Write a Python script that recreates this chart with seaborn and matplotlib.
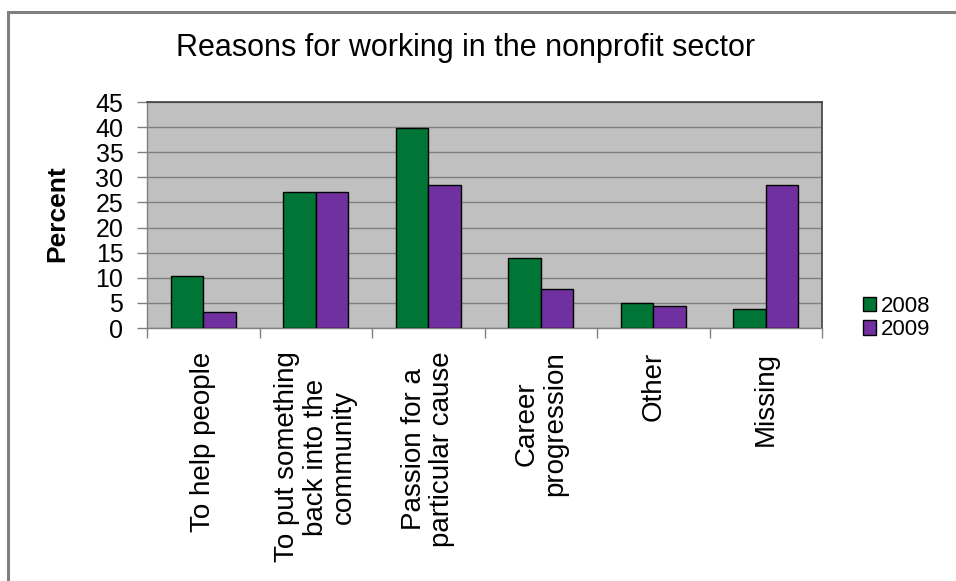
import matplotlib
matplotlib.use("Agg")
import matplotlib.pyplot as plt
from matplotlib.patches import Rectangle
import seaborn as sns
import pandas as pd

categories = [
    "To help people",
    "To put something\nback into the\ncommunity",
    "Passion for a\nparticular cause",
    "Career\nprogression",
    "Other",
    "Missing",
]
values_2008 = [10.4, 27.0, 39.8, 13.9, 4.9, 3.7]
values_2009 = [3.2, 27.0, 28.5, 7.8, 4.4, 28.5]
years = ["2008", "2009"]
y_ticks = [0, 5, 10, 15, 20, 25, 30, 35, 40, 45]

df = pd.DataFrame({
    "Reason": categories * 2,
    "Year": [years[0]] * len(categories) + [years[1]] * len(categories),
    "Percent": values_2008 + values_2009,
})

sns.set_theme(style="white")
plt.rcParams["font.family"] = ["Liberation Sans", "DejaVu Sans"]
plt.rcParams["text.color"] = "black"
plt.rcParams["xtick.labelcolor"] = "black"
plt.rcParams["ytick.labelcolor"] = "black"

fig = plt.figure(figsize=(9.56, 5.81), dpi=100)
ax = fig.add_axes([147 / 956, 1 - 328 / 581, (822 - 147) / 956, (328 - 102) / 581])

palette = {"2008": "#007535", "2009": "#7030A0"}
sns.barplot(data=df, x="Reason", y="Percent", hue="Year", order=categories,
            hue_order=years, palette=palette, width=0.58, gap=0,
            edgecolor="black", linewidth=1.0, saturation=1, ax=ax, zorder=3)

ax.set_facecolor("#C0C0C0")
ax.set_ylim(0, 45)
ax.set_xlim(-0.5, len(categories) - 0.5)
ax.set_yticks(y_ticks)
ax.yaxis.grid(True, color="#808080", linewidth=1.0, zorder=0)
ax.set_axisbelow(True)

for side in ["left", "bottom"]:
    ax.spines[side].set_color("#808080")
    ax.spines[side].set_linewidth(1.0)
for side in ["top", "right"]:
    ax.spines[side].set_color("#404040")
    ax.spines[side].set_linewidth(1.2)

ax.tick_params(axis="y", which="major", direction="out", length=7, width=1,
               color="#808080", labelsize=18, pad=10, left=True, labelcolor="black")
ax.set_xticks(range(len(categories)))
ax.set_xticklabels(categories, rotation=90, ha="center", va="top",
                   multialignment="center", fontsize=20, linespacing=1.12,
                   color="black")
ax.tick_params(axis="x", which="major", length=0, pad=17)
ax.set_xticks([i + 0.5 for i in range(-1, len(categories))], minor=True)
ax.tick_params(axis="x", which="minor", direction="out", length=7, width=1,
               color="#808080", bottom=True)

ax.set_xlabel("")
ax.set_ylabel("")
fig.text(57 / 956, 1 - 214 / 581, "Percent", rotation=90, ha="center", va="center",
         fontsize=19, fontweight="bold", color="black")

handles, labels = ax.get_legend_handles_labels()
leg = ax.legend(handles, labels, loc="center left",
                bbox_to_anchor=(863 / 956, 1 - 318 / 581),
                bbox_transform=fig.transFigure, frameon=False, fontsize=16,
                handlelength=0.6, handleheight=0.6, handletextpad=0.2,
                labelspacing=0.12, borderaxespad=0, borderpad=0)
for t in leg.get_texts():
    t.set_color("black")

fig.text(466 / 956, 1 - 48 / 581, "Reasons for working in the nonprofit sector",
         ha="center", va="center", fontsize=22, color="black")

fig.patches.append(Rectangle((8 / 956, -0.1), 1.2, 1 - 11.5 / 581 + 0.1,
                             transform=fig.transFigure, fill=False,
                             edgecolor="#808080", linewidth=2.2))

fig.savefig("out.png", dpi=100)
